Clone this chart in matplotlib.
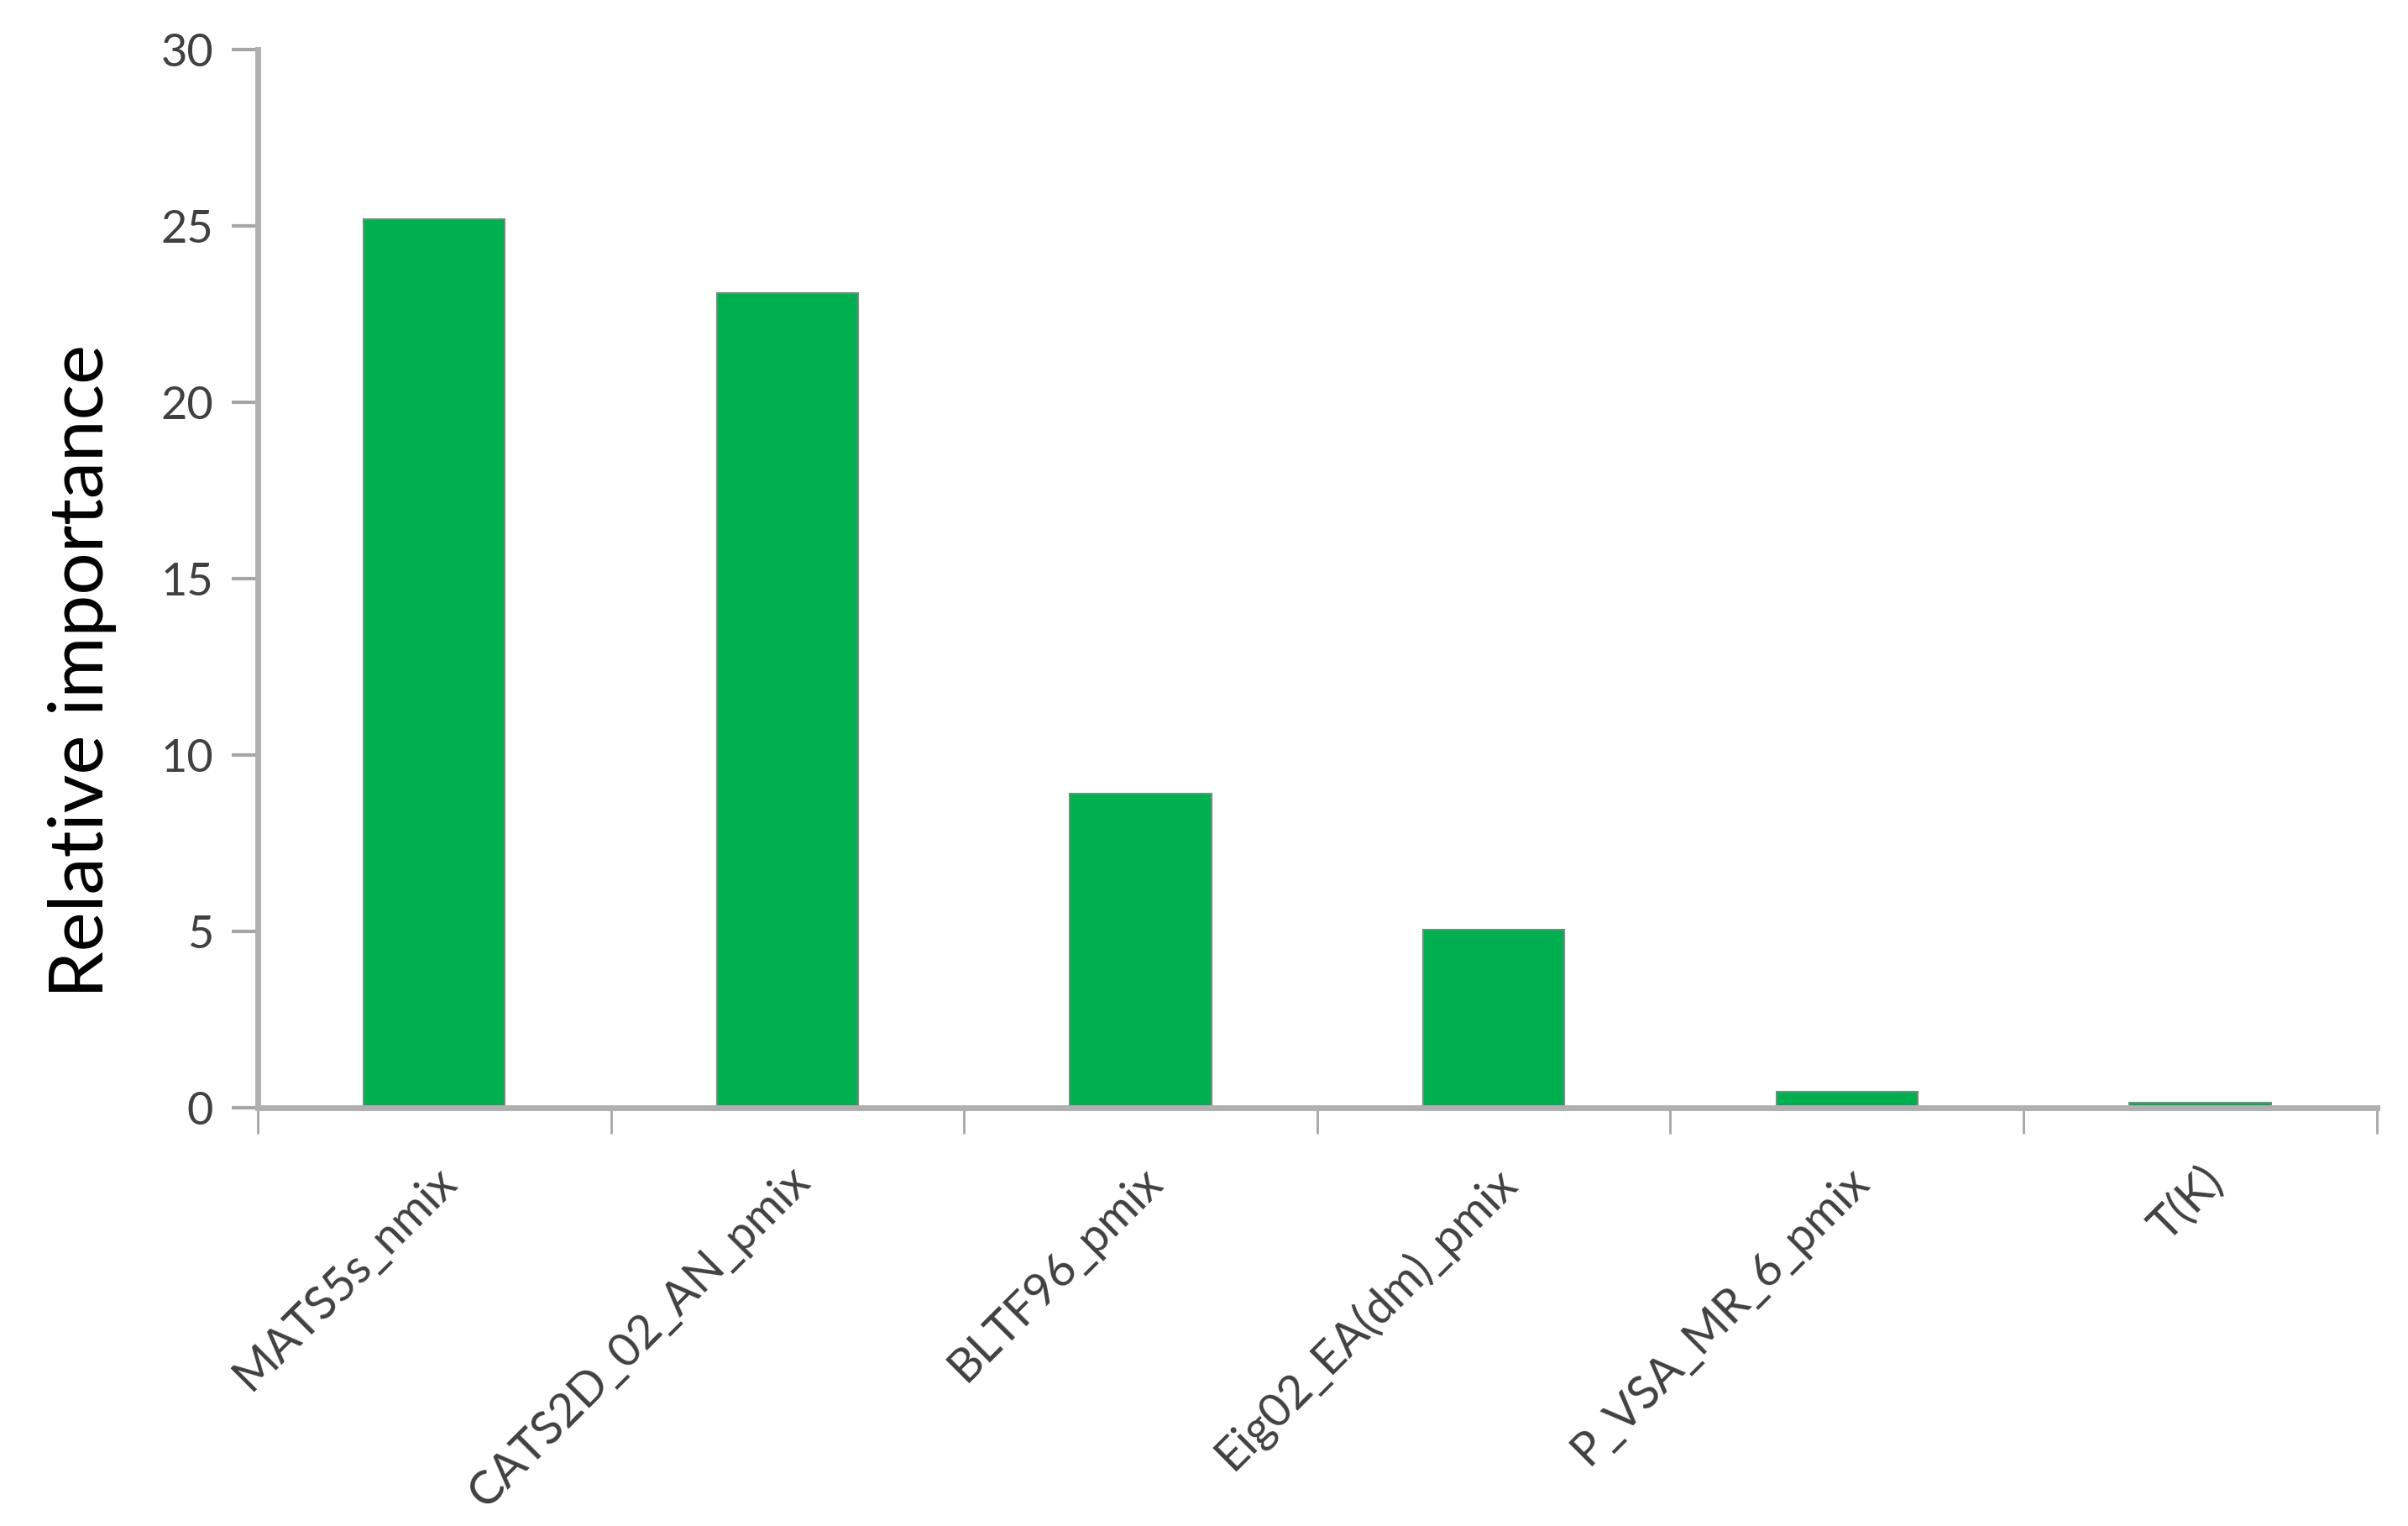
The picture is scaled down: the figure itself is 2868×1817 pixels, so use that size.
import numpy as np
import matplotlib
matplotlib.use("Agg")
import matplotlib.pyplot as plt

# Dane wykresu
descriptors = ['MATS5s_nmix', 'CATS2D_02_AN_pmix', 'BLTF96_pmix',
               'Eig02_EA(dm)_pmix', 'P_VSA_MR_6_pmix', 'T(K)']
importance = [25.2, 23.1, 8.9, 5.05, 0.45, 0.15]
y_ticks = [0, 5, 10, 15, 20, 25, 30]

plt.rcParams['font.family'] = ['Lato', 'DejaVu Sans']

fig = plt.figure(figsize=(28.68, 18.17), dpi=100)
ax = fig.add_axes([0.107, 0.274, 0.880, 0.6935])

x = np.arange(len(descriptors))
ax.bar(x, importance, width=0.4, color='#00B050', edgecolor='#6f8f7a', linewidth=1.5, zorder=2)

ax.set_xlim(-0.5, len(descriptors) - 0.5)
ax.set_ylim(0, 30)
ax.set_yticks(y_ticks)
ax.set_yticklabels([str(v) for v in y_ticks], fontsize=39, color='#404040')

# Etykiety kategorii na środku, znaczniki na granicach (styl Excela)
ax.set_xticks(x)
ax.set_xticklabels(descriptors, rotation=45, ha='right', rotation_mode='anchor',
                   fontsize=40, color='#404040')
ax.tick_params(axis='x', which='major', length=0, pad=44)
ax.set_xticks(np.arange(-0.5, len(descriptors)), minor=True)
ax.tick_params(axis='x', which='minor', length=22, width=2, color='#a6a6a6', direction='out')
ax.tick_params(axis='y', length=22, width=3, color='#a6a6a6', pad=16)

for side in ['top', 'right']:
    ax.spines[side].set_visible(False)
for side in ['left', 'bottom']:
    ax.spines[side].set_color('#b0b0b0')
    ax.spines[side].set_linewidth(5)

# Tytuł osi Y - trochę poniżej środka, jak w oryginale
fig.text(0.034, 0.56, 'Relative importance', rotation=90, fontsize=64,
         color='black', ha='center', va='center')

fig.savefig('out.png', dpi=100)
